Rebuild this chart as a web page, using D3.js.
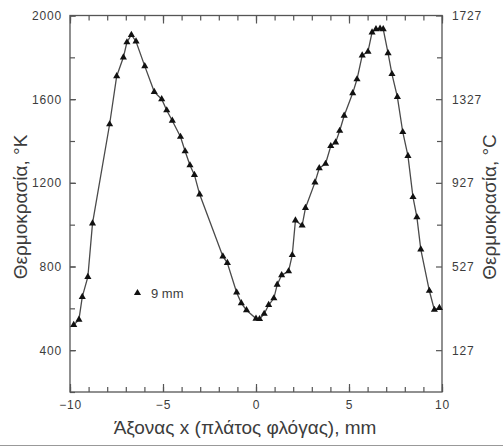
<!DOCTYPE html>
<html>
<head>
<meta charset="utf-8">
<script src="https://cdn.jsdelivr.net/npm/d3@7"></script>
<style>
  html, body { margin: 0; padding: 0; background: #fff; }
  svg { display: block; }
  .tick text { font-family: "Liberation Sans", Arial, sans-serif; font-size: 12px; fill: #3c3c3c; letter-spacing: 0.8px; }
  .tick line { stroke: #555; stroke-width: 1.2; }
</style>
</head>
<body>
<svg id="chart" width="503" height="447"></svg>
<script>
// Flame temperature profile across the flame width, 9 mm height
const positionMm = [
  -9.80, -9.52, -9.34, -9.04, -8.79, -7.87, -7.49, -7.13, -6.94, -6.70,
  -6.45, -5.98, -5.47, -5.07, -4.80, -4.50, -4.06, -3.81, -3.55, -3.31,
  -3.03, -1.78, -1.54, -1.04, -0.79, -0.51, 0.00, 0.19, 0.44, 0.68,
  0.96, 1.14, 1.38, 1.75, 1.95, 2.12, 2.48, 2.66, 3.17, 3.40,
  3.74, 4.02, 4.28, 4.50, 4.74, 5.20, 5.43, 5.71, 6.02, 6.24,
  6.45, 6.67, 6.84, 7.10, 7.31, 7.60, 7.89, 8.17, 8.44, 8.65,
  8.86, 9.32, 9.59, 9.86
];
const temperatureK = [
  521, 546, 655, 750, 1006, 1480, 1710, 1800, 1872, 1907,
  1876, 1758, 1635, 1600, 1547, 1497, 1420, 1351, 1284, 1238,
  1145, 848, 817, 676, 625, 591, 551, 549, 574, 616,
  648, 713, 759, 777, 855, 1020, 996, 1080, 1202, 1270,
  1291, 1376, 1393, 1449, 1521, 1629, 1695, 1809, 1827, 1919,
  1935, 1937, 1935, 1820, 1720, 1611, 1443, 1329, 1132, 1036,
  882, 684, 593, 602
];
const xMajorTicks = [-10, -5, 0, 5, 10];
const xMinorTicks = d3.range(-10, 10.5, 1);
const kelvinTicks = [400, 800, 1200, 1600, 2000];
const kelvinMinorTicks = d3.range(200, 2001, 200);
const celsiusTicks = [127, 527, 927, 1327, 1727];
const celsiusMinorTicks = [327, 727, 1127, 1527];
const seriesLabel = "9 mm";
const xTitle = "Άξονας x (πλάτος φλόγας), mm";
const yLeftTitle = "Θερμοκρασία, °K";
const yRightTitle = "Θερμοκρασία, °C";

const svg = d3.select("#chart");
const plotLeft = 70, plotRight = 442, plotTop = 15.5, plotBottom = 392;

const x = d3.scaleLinear().domain([-10, 10]).range([plotLeft, plotRight]);
const yK = d3.scaleLinear().domain([200, 2000]).range([plotBottom, plotTop]);
const yC = d3.scaleLinear().domain([200 - 273, 2000 - 273]).range([plotBottom, plotTop]);

const fmtX = d => (d < 0 ? "\u2212" + Math.abs(d) : String(d));
const fmtY = d => String(d);

function axisGroup(axis, tx, ty) {
  const g = svg.append("g").attr("transform", `translate(${tx},${ty})`).call(axis);
  g.select(".domain").remove();
  return g;
}

// minor ticks (inward, no labels)
axisGroup(d3.axisBottom(x).tickValues(xMinorTicks).tickSize(-5).tickFormat(""), 0, plotBottom);
axisGroup(d3.axisTop(x).tickValues(xMinorTicks).tickSize(-5).tickFormat(""), 0, plotTop);
axisGroup(d3.axisLeft(yK).tickValues(kelvinMinorTicks).tickSize(-5).tickFormat(""), plotLeft, 0);
axisGroup(d3.axisRight(yC).tickValues(celsiusMinorTicks).tickSize(-5).tickFormat(""), plotRight, 0);

// major ticks with labels
axisGroup(d3.axisBottom(x).tickValues(xMajorTicks).tickSize(-8).tickPadding(8).tickFormat(fmtX), 0, plotBottom);
axisGroup(d3.axisTop(x).tickValues(xMajorTicks).tickSize(-8).tickFormat(""), 0, plotTop);
axisGroup(d3.axisLeft(yK).tickValues(kelvinTicks).tickSize(-6).tickPadding(8).tickFormat(fmtY), plotLeft, 0);
axisGroup(d3.axisRight(yC).tickValues(celsiusTicks).tickSize(-6).tickPadding(10).tickFormat(fmtY), plotRight, 0);

// plot frame
svg.append("rect")
  .attr("x", plotLeft).attr("y", plotTop)
  .attr("width", plotRight - plotLeft).attr("height", plotBottom - plotTop)
  .attr("fill", "none").attr("stroke", "#555").attr("stroke-width", 1.3);

// profile line
const line = d3.line()
  .x((d, i) => x(positionMm[i]))
  .y((d, i) => yK(temperatureK[i]));
svg.append("path")
  .datum(temperatureK)
  .attr("d", line)
  .attr("fill", "none")
  .attr("stroke", "#4a4a4a")
  .attr("stroke-width", 1.3);

// triangle markers
const tri = d3.symbol().type(d3.symbolTriangle).size(22);
svg.append("g").selectAll("path")
  .data(temperatureK)
  .join("path")
  .attr("d", tri)
  .attr("transform", (d, i) => `translate(${x(positionMm[i])},${yK(d)})`)
  .attr("fill", "#111");

// legend
svg.append("path").attr("d", tri).attr("fill", "#111")
  .attr("transform", "translate(137.5,293)");
svg.append("text")
  .attr("x", 151).attr("y", 297.5)
  .attr("font-family", "Liberation Sans, Arial, sans-serif")
  .attr("font-size", 13).attr("fill", "#3c3c3c")
  .text(seriesLabel);

// axis titles
const titleFont = "Liberation Sans, Arial, sans-serif";
svg.append("text")
  .attr("x", 245).attr("y", 434)
  .attr("text-anchor", "middle")
  .attr("font-family", titleFont).attr("font-size", 19).attr("fill", "#3c3c3c")
  .text(xTitle);
svg.append("text")
  .attr("transform", "translate(27,207) rotate(-90)")
  .attr("text-anchor", "middle")
  .attr("font-family", titleFont).attr("font-size", 19).attr("fill", "#3c3c3c")
  .text(yLeftTitle);
svg.append("text")
  .attr("transform", "translate(496,207) rotate(-90)")
  .attr("text-anchor", "middle")
  .attr("font-family", titleFont).attr("font-size", 19).attr("fill", "#3c3c3c")
  .text(yRightTitle);

// thin rule along the bottom edge
svg.append("line")
  .attr("x1", 0).attr("x2", 503).attr("y1", 445.5).attr("y2", 445.5)
  .attr("stroke", "#999").attr("stroke-width", 1);
</script>
</body>
</html>
